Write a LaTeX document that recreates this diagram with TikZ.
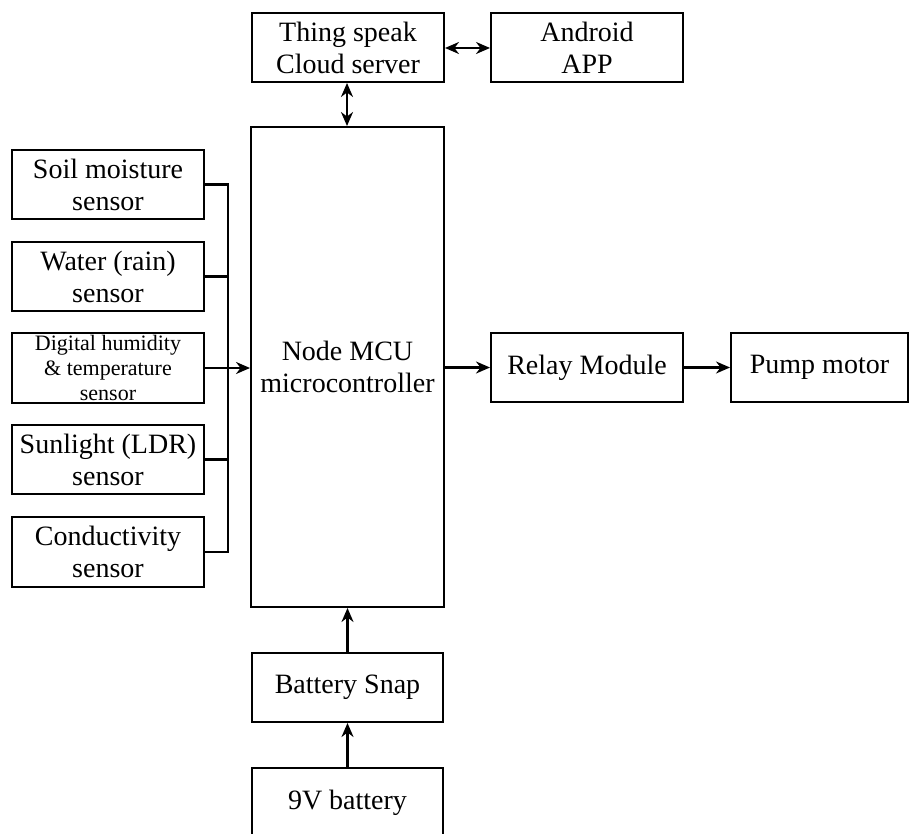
\documentclass[tikz,border=0pt]{standalone}
\usepackage{fontspec}
\setmainfont{Liberation Serif}
\usetikzlibrary{arrows.meta}
\begin{document}
\begin{tikzpicture}[x=1pt,y=-1pt,
  blk/.style={draw,line width=2pt,rectangle,align=center,inner sep=0pt,
    font=\fontsize{28}{32}\selectfont},
  wire/.style={line width=2.2pt},
  arr/.style={wire,-{Stealth[length=14pt,width=12pt]}},
  darr/.style={wire,{Stealth[length=14pt,width=12pt]}-{Stealth[length=14pt,width=12pt]}}]
\clip (0,0) rectangle (912,834);
\fill[white] (0,0) rectangle (912,834);
% top
\node[blk,minimum width=192pt,minimum height=69pt] (cloud) at (348,47.5) {Thing speak\\Cloud server};
\node[blk,minimum width=192pt,minimum height=69pt] (app) at (587,47.5) {Android\\APP};
% controller
\node[blk,minimum width=193pt,minimum height=480pt] (mcu) at (347.5,367) {Node MCU\\microcontroller};
% sensors
\node[blk,minimum width=192pt,minimum height=69pt] (soil) at (108,184.5) {Soil moisture\\sensor};
\node[blk,minimum width=192pt,minimum height=69pt] (water) at (108,276.5) {Water (rain)\\sensor};
\node[blk,minimum width=192pt,minimum height=70pt,font=\fontsize{22}{25}\selectfont] (dht) at (108,368) {Digital humidity\\\& temperature\\sensor};
\node[blk,minimum width=192pt,minimum height=69pt] (ldr) at (108,459.5) {Sunlight (LDR)\\sensor};
\node[blk,minimum width=192pt,minimum height=70pt] (cond) at (108,552) {Conductivity\\sensor};
% outputs
\node[blk,minimum width=192pt,minimum height=69pt] (relay) at (587,367.5) {Relay Module};
\node[blk,minimum width=177pt,minimum height=69pt] (pump) at (819.5,367.5) {Pump motor};
% power
\node[blk,minimum width=191pt,minimum height=69pt] (snap) at (347.5,687.5) {Battery Snap};
\node[blk,minimum width=191pt,minimum height=70pt] (batt) at (347.5,803) {9V battery};
% bus
\coordinate (bus) at (228,368);
\draw[wire] (soil.east) -| (bus);
\draw[wire] (water.east) -| (bus);
\draw[wire] (ldr.east) -| (bus);
\draw[wire] (cond.east) -| (bus);
\draw[arr] (dht.east) -- (dht.east -| mcu.west);
% connections
\draw[darr] (cloud.east |- 0,48) -- (app.west |- 0,48);
\draw[darr] (cloud.south -| 347,0) -- (mcu.north -| 347,0);
\draw[arr] (mcu.east |- relay.west) -- (relay.west);
\draw[arr] (relay.east) -- (pump.west);
\draw[arr] (snap.north) -- (snap.north |- mcu.south);
\draw[arr] (batt.north) -- (snap.south);
\end{tikzpicture}
\end{document}
